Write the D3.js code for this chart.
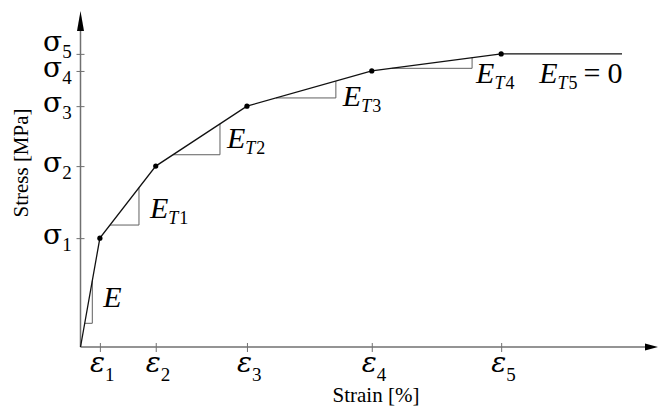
<!DOCTYPE html>
<html>
<head>
<meta charset="utf-8">
<script src="https://cdn.jsdelivr.net/npm/d3@7/dist/d3.min.js"></script>
<style>
  body { margin: 0; background: #fff; }
  text { font-family: "Liberation Serif", "Times New Roman", serif; }
</style>
</head>
<body>
<script>
// Multilinear stress-strain sketch (symbolic values)
var strainValues = [0.34, 1.32, 2.92, 5.11, 7.38];
var stressValues = [32.5, 54.0, 71.9, 82.4, 87.5];
var tickSubs = ["1", "2", "3", "4", "5"];
var strainEnd = 9.5;

// slope triangles: horizontal leg from strain a to strain b on segment seg
var triangleSeg = [0, 1, 2, 3, 4];
var triangleFrom = [0.074, 0.518, 1.623, 3.43, 5.46];
var triangleTo = [0.207, 1.026, 2.447, 4.48, 6.87];
var triangleSubs = ["", "T1", "T2", "T3", "T4"];

var width = 658, height = 408;
var svg = d3.select("body").append("svg")
            .attr("width", width).attr("height", height);

var x = d3.scaleLinear().domain([0, 10]).range([80.5, 650.5]);
var y = d3.scaleLinear().domain([0, 100]).range([347, 12]);

var axisColor = "#707070";
var greekFont = "'DejaVu Serif', serif";

// curve points, origin first
var pts = [[0, 0]];
strainValues.forEach(function(d, i) { pts.push([d, stressValues[i]]); });

function stressAt(seg, e)
{
  var a = pts[seg], b = pts[seg + 1];
  return a[1] + (b[1] - a[1]) * (e - a[0]) / (b[0] - a[0]);
}

// axes
var xAxis = d3.axisBottom(x).tickValues(strainValues).tickSize(9).tickFormat("");
var yAxis = d3.axisLeft(y).tickValues(stressValues).tickSize(8).tickFormat("");

var gx = svg.append("g").attr("transform", "translate(0," + (y(0) - 4) + ")").call(xAxis);
gx.select(".domain").remove();
gx.selectAll("line").attr("stroke", axisColor);

var gy = svg.append("g").attr("transform", "translate(" + (x(0) + 4) + ",0)").call(yAxis);
gy.select(".domain").remove();
gy.selectAll("line").attr("stroke", axisColor);

svg.append("line")
   .attr("x1", x(0)).attr("y1", y(0)).attr("x2", 650).attr("y2", y(0))
   .attr("stroke", axisColor).attr("stroke-width", 1.5);
svg.append("line")
   .attr("x1", x(0)).attr("y1", y(0)).attr("x2", x(0)).attr("y2", 26)
   .attr("stroke", axisColor).attr("stroke-width", 1.5);

// arrow heads
svg.append("path")
   .attr("d", "M" + x(0) + ",11 L" + (x(0) - 3.5) + ",31 L" + (x(0) + 3.5) + ",31 Z")
   .attr("fill", "#000");
svg.append("path")
   .attr("d", "M658," + y(0) + " L645," + (y(0) - 3.5) + " L645," + (y(0) + 3.5) + " Z")
   .attr("fill", "#000");

// slope triangles
triangleSeg.forEach(function(seg, i)
{
  var e0 = triangleFrom[i], e1 = triangleTo[i];
  var s0 = stressAt(seg, e0), s1 = stressAt(seg, e1);
  svg.append("path")
     .attr("d", "M" + x(e0) + "," + y(s0) + " L" + x(e1) + "," + y(s0) + " L" + x(e1) + "," + y(s1))
     .attr("fill", "none")
     .attr("stroke", "#606060")
     .attr("stroke-width", 1);
});

// stress-strain curve
var linePts = pts.concat([[strainEnd, stressValues[4]]]);
svg.append("path")
   .datum(linePts)
   .attr("d", d3.line().x(function(d) { return x(d[0]); }).y(function(d) { return y(d[1]); }))
   .attr("fill", "none")
   .attr("stroke", "#111")
   .attr("stroke-width", 1.3);

svg.selectAll("circle.knee").data(strainValues).enter().append("circle")
   .attr("class", "knee")
   .attr("cx", function(d) { return x(d); })
   .attr("cy", function(d, i) { return y(stressValues[i]); })
   .attr("r", 2.6)
   .attr("fill", "#000");

// epsilon tick labels
svg.selectAll("text.eps").data(strainValues).enter().append("text")
   .attr("class", "eps")
   .attr("x", function(d) { return x(d) - 10; })
   .attr("y", y(0) + 25)
   .each(function(d, i)
   {
     var t = d3.select(this);
     t.append("tspan").attr("font-family", greekFont).attr("font-style", "italic")
      .attr("font-size", 28).text("\u03b5");
     t.append("tspan").attr("font-size", 19).attr("dy", 9).text(tickSubs[i]);
   });

// sigma tick labels
var sigmaNudge = [0, 0, 0, 0, -9];
svg.selectAll("text.sig").data(stressValues).enter().append("text")
   .attr("class", "sig")
   .attr("x", 43)
   .attr("y", function(d, i) { return y(d) + 6 + sigmaNudge[i]; })
   .each(function(d, i)
   {
     var t = d3.select(this);
     t.append("tspan").attr("font-family", greekFont).attr("font-size", 28).text("\u03c3");
     t.append("tspan").attr("font-size", 19).attr("dy", 7).text(tickSubs[i]);
   });

// modulus labels, placed next to each triangle's vertical leg
var labelNudge = [[11, -16], [11, -7], [7, -7], [7, 8], [4, 15]];
triangleSeg.forEach(function(seg, i)
{
  var e0 = triangleFrom[i], e1 = triangleTo[i];
  var s0 = stressAt(seg, e0);
  var t = svg.append("text")
             .attr("x", x(e1) + labelNudge[i][0])
             .attr("y", y(s0) + labelNudge[i][1]);
  t.append("tspan").attr("font-style", "italic").attr("font-size", 30).text("E");
  if (triangleSubs[i])
  {
    t.append("tspan").attr("font-style", "italic").attr("font-size", 18).attr("dy", 6)
     .text(triangleSubs[i].charAt(0));
    t.append("tspan").attr("font-size", 18).attr("dx", 1).text(triangleSubs[i].charAt(1));
  }
});

// E_T5 = 0
var t5 = svg.append("text")
            .attr("x", x(strainValues[4]) + 38)
            .attr("y", y(stressValues[4]) + 29);
t5.append("tspan").attr("font-style", "italic").attr("font-size", 30).text("E");
t5.append("tspan").attr("font-style", "italic").attr("font-size", 18).attr("dy", 6).text("T");
t5.append("tspan").attr("font-size", 18).attr("dx", 1).text("5");
t5.append("tspan").attr("font-size", 30).attr("dy", -6).attr("dx", 6).text("=");
t5.append("tspan").attr("font-size", 30).attr("dx", 7).text("0");

// axis titles
svg.append("text")
   .attr("x", 376).attr("y", 402)
   .attr("text-anchor", "middle")
   .attr("font-size", 21)
   .text("Strain [%]");

svg.append("text")
   .attr("transform", "translate(28,163) rotate(-90)")
   .attr("text-anchor", "middle")
   .attr("font-size", 21)
   .text("Stress [MPa]");
</script>
</body>
</html>
